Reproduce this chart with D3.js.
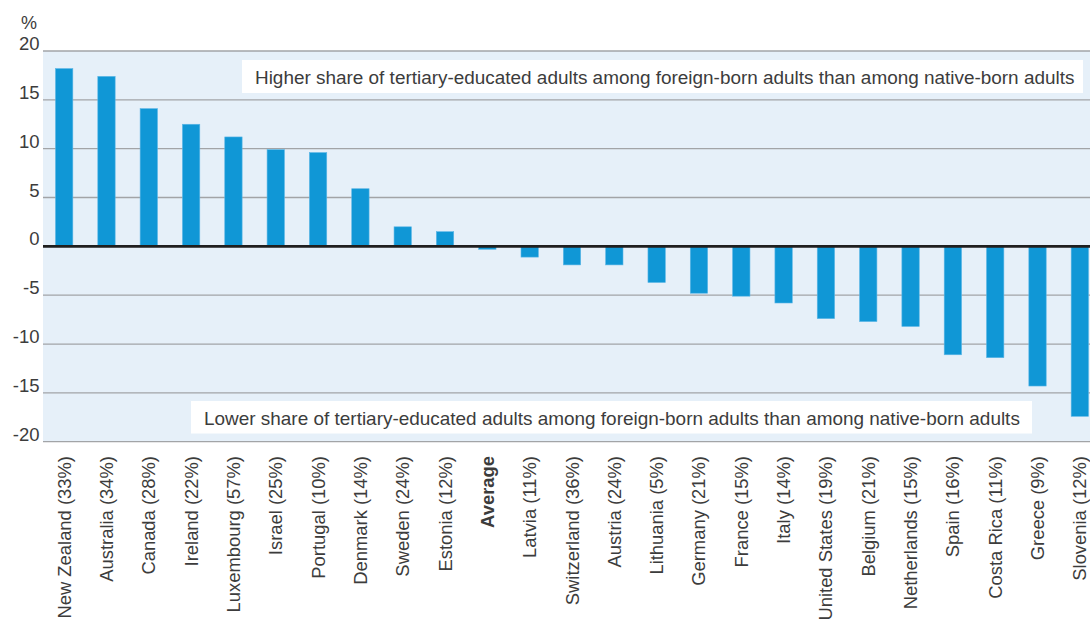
<!DOCTYPE html>
<html>
<head>
<meta charset="utf-8">
<script src="https://cdn.jsdelivr.net/npm/d3@7.9.0/dist/d3.min.js"></script>
<style>
  body { margin: 0; background: #fff; }
  svg { display: block; font-family: "Liberation Sans", Arial, sans-serif; }
</style>
</head>
<body>
<svg width="1090" height="622"></svg>
<script>
// countries, share of tertiary-educated foreign-born in brackets
const countries = ['New Zealand (33%)', 'Australia (34%)', 'Canada (28%)', 'Ireland (22%)',
  'Luxembourg (57%)', 'Israel (25%)', 'Portugal (10%)', 'Denmark (14%)', 'Sweden (24%)',
  'Estonia (12%)', 'Average', 'Latvia (11%)', 'Switzerland (36%)', 'Austria (24%)',
  'Lithuania (5%)', 'Germany (21%)', 'France (15%)', 'Italy (14%)', 'United States (19%)',
  'Belgium (21%)', 'Netherlands (15%)', 'Spain (16%)', 'Costa Rica (11%)', 'Greece (9%)',
  'Slovenia (12%)'];
const gaps = [18.2, 17.4, 14.1, 12.5, 11.2, 9.9, 9.6, 5.9, 2.0, 1.5, -0.3, -1.1, -1.9, -1.9,
  -3.7, -4.8, -5.1, -5.8, -7.4, -7.7, -8.2, -11.1, -11.4, -14.3, -17.4];
const yTicks = [-20, -15, -10, -5, 0, 5, 10, 15, 20];
const noteHigh = 'Higher share of tertiary-educated adults among foreign-born adults than among native-born adults';
const noteLow = 'Lower share of tertiary-educated adults among foreign-born adults than among native-born adults';

const svg = d3.select('svg');
const textColor = '#3c3c3c';

const x = d3.scaleBand().domain(countries).range([43, 1101]).paddingInner(0.59).paddingOuter(0.295);
const y = d3.scaleLinear().domain([-20, 20]).range([441.7, 51]);

// plot background
svg.append('rect')
  .attr('x', 43).attr('y', y(20))
  .attr('width', 1101 - 43).attr('height', y(-20) - y(20))
  .attr('fill', '#e6f0f9');

// grid
svg.append('g').selectAll('line')
  .data(yTicks.filter(d => d !== 0))
  .join('line')
  .attr('x1', 43).attr('x2', 1101)
  .attr('y1', d => y(d)).attr('y2', d => y(d))
  .attr('stroke', '#a2a4a7').attr('stroke-width', 1.3);

// tick labels
svg.append('g').selectAll('text')
  .data(yTicks)
  .join('text')
  .attr('x', 39.5).attr('y', d => y(d) - 1)
  .attr('text-anchor', 'end')
  .attr('font-size', 18.5).attr('fill', textColor)
  .text(d => d);

svg.append('text')
  .attr('x', 21).attr('y', 29)
  .attr('font-size', 18).attr('fill', textColor)
  .text('%');

// bars
svg.append('g').selectAll('rect')
  .data(gaps)
  .join('rect')
  .attr('x', (d, i) => x(countries[i]))
  .attr('width', x.bandwidth())
  .attr('y', d => y(Math.max(0, d)))
  .attr('height', d => Math.abs(y(d) - y(0)))
  .attr('fill', '#1097d6')
  .attr('stroke', '#5cb6e6').attr('stroke-width', 0.6);

// zero line
svg.append('line')
  .attr('x1', 43).attr('x2', 1101)
  .attr('y1', y(0)).attr('y2', y(0))
  .attr('stroke', '#1f1f1f').attr('stroke-width', 2.6);

// annotation boxes, text fitted to the box width
function note(label, bx, by, bw, bh, tx, tw, base) {
  svg.append('rect')
    .attr('x', bx).attr('y', by).attr('width', bw).attr('height', bh)
    .attr('fill', '#fff');
  let t = svg.append('text')
    .attr('x', tx).attr('y', base)
    .attr('font-size', 17).attr('fill', textColor)
    .text(label);
  let w = t.node().getComputedTextLength();
  t.attr('font-size', 17 * tw / w);
}
note(noteHigh, 242, 60, 841, 33, 255, 820, 84);
note(noteLow, 191, 401, 841, 32.5, 204, 816, 424.5);

// category labels
svg.append('g').selectAll('text')
  .data(countries)
  .join('text')
  .attr('transform', d => `translate(${x(d) + x.bandwidth() / 2 + 6.5},456) rotate(-90)`)
  .attr('text-anchor', 'end')
  .attr('font-size', 18.4)
  .attr('font-weight', d => d === 'Average' ? 'bold' : 'normal')
  .attr('fill', textColor)
  .text(d => d);
</script>
</body>
</html>
